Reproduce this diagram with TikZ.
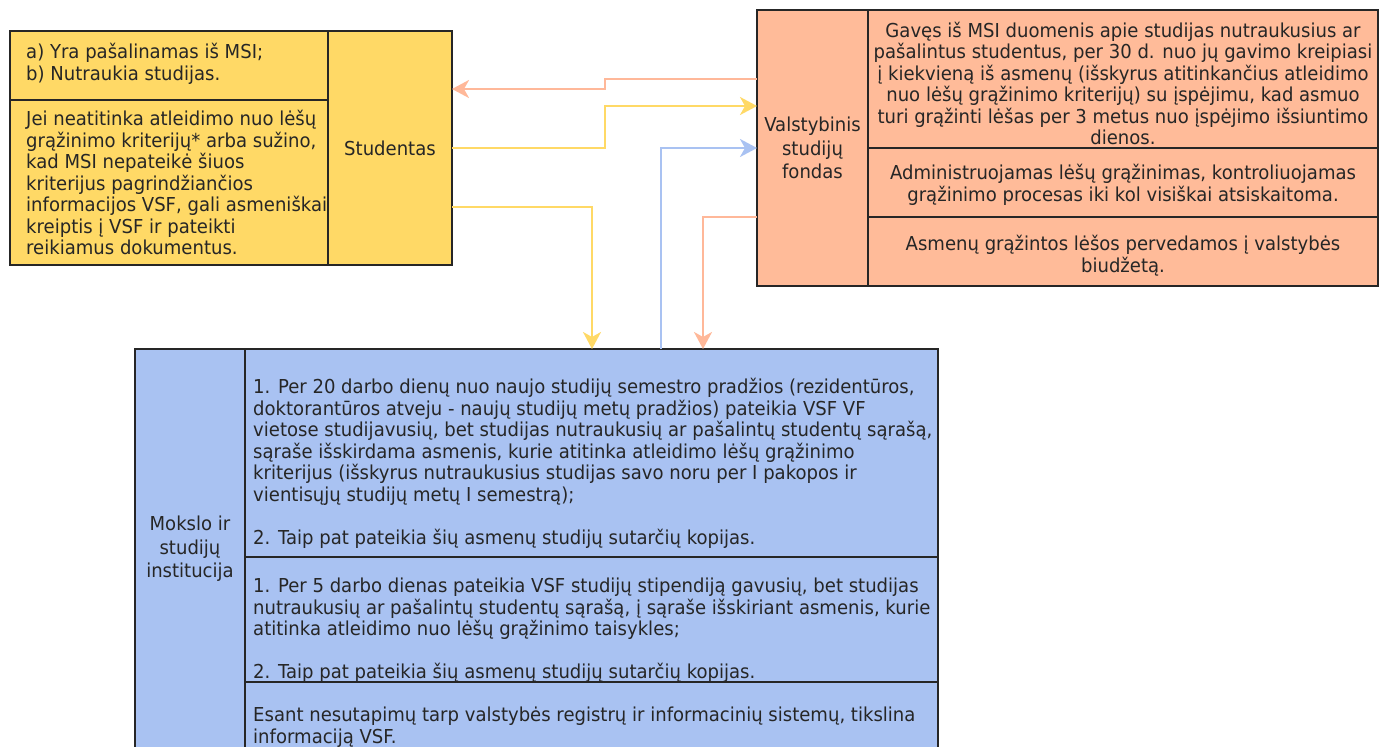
\documentclass[tikz,border=0pt]{standalone}
\usepackage{fontspec}
\setmainfont[FakeStretch=0.94]{DejaVu Sans}
\usetikzlibrary{arrows.meta}
\definecolor{yfill}{HTML}{FFD966}
\definecolor{ofill}{HTML}{FFBB99}
\definecolor{bfill}{HTML}{A9C2F2}
\definecolor{oline}{HTML}{FFB899}
\definecolor{yline}{HTML}{FFD966}
\definecolor{bline}{HTML}{A9C2F2}
\definecolor{edge}{HTML}{262626}
\begin{document}
\begin{tikzpicture}[x=1pt,y=-1pt,
  cell/.style={draw=edge, line width=1.3pt, anchor=north west, inner sep=0pt, outer sep=0pt},
  txt/.style={font=\fontsize{19.2}{21.5}\selectfont, inner sep=0pt, text=black!85},
  lbl/.style={font=\fontsize{19.2}{23.5}\selectfont, inner sep=0pt, align=center, text=black!85},
  conn/.style={line width=2.5pt, -{Stealth[length=17pt,width=18pt,inset=5pt]}},
]
\useasboundingbox (0,0) rectangle (1382,747);
\clip (0,0) rectangle (1382,747);

% ---- Studentas (yellow)
\node[cell, fill=yfill, minimum width=442, minimum height=234] (stud) at (10,31) {};
\node[cell, minimum width=318, minimum height=69] (stA) at (10,31) {};
\node[cell, minimum width=318, minimum height=165] (stB) at (10,100) {};
\node[cell, minimum width=124, minimum height=234, lbl] (stC) at (328,31) {Studentas};
\node[txt, anchor=west, align=left] (t1) at (26,64) {a) Yra pašalinamas iš MSI;\\b) Nutraukia studijas.};
\node[txt, anchor=west, align=left] (t2) at (26,182.5) {Jei neatitinka atleidimo nuo lėšų\\grąžinimo kriterijų* arba sužino,\\kad MSI nepateikė šiuos\\kriterijus pagrindžiančios\\informacijos VSF, gali asmeniškai\\kreiptis į VSF ir pateikti\\reikiamus dokumentus.};

% ---- VSF (orange)
\node[cell, fill=ofill, minimum width=621, minimum height=276] (vsf) at (757,10) {};
\node[cell, minimum width=111, minimum height=276, lbl] (vA) at (757,10) {Valstybinis\\studijų\\fondas};
\node[cell, minimum width=510, minimum height=138] (vB) at (868,10) {};
\node[cell, minimum width=510, minimum height=69] (vC) at (868,148) {};
\node[cell, minimum width=510, minimum height=69] (vD) at (868,217) {};
\node[txt, align=center] (t3) at (1123,83.5) {Gavęs iš MSI duomenis apie studijas nutraukusius ar\\pašalintus studentus, per 30 d. nuo jų gavimo kreipiasi\\į kiekvieną iš asmenų (išskyrus atitinkančius atleidimo\\nuo lėšų grąžinimo kriterijų) su įspėjimu, kad asmuo\\turi grąžinti lėšas per 3 metus nuo įspėjimo išsiuntimo\\dienos.};
\node[txt, align=center] (t4) at (1123,185) {Administruojamas lėšų grąžinimas, kontroliuojamas\\grąžinimo procesas iki kol visiškai atsiskaitoma.};
\node[txt, align=center] (t5) at (1123,255.5) {Asmenų grąžintos lėšos pervedamos į valstybės\\biudžetą.};

% ---- MSI (blue)
\node[cell, fill=bfill, minimum width=803, minimum height=400] (msi) at (135,349) {};
\node[cell, minimum width=110, minimum height=400, lbl] (mA) at (135,349) {Mokslo ir\\studijų\\institucija};
\node[cell, minimum width=693, minimum height=208] (mB) at (245,349) {};
\node[cell, minimum width=693, minimum height=125] (mC) at (245,557) {};
\node[cell, minimum width=693, minimum height=67] (mD) at (245,682) {};
\node[txt, anchor=west, align=left] (t6) at (253,463.5) {1. Per 20 darbo dienų nuo naujo studijų semestro pradžios (rezidentūros,\\doktorantūros atveju - naujų studijų metų pradžios) pateikia VSF VF\\vietose studijavusių, bet studijas nutraukusių ar pašalintų studentų sąrašą,\\sąraše išskirdama asmenis, kurie atitinka atleidimo lėšų grąžinimo\\kriterijus (išskyrus nutraukusius studijas savo noru per I pakopos ir\\vientisųjų studijų metų I semestrą);\\[21.5pt]2. Taip pat pateikia šių asmenų studijų sutarčių kopijas.};
\node[txt, anchor=west, align=left] (t7) at (253,630.5) {1. Per 5 darbo dienas pateikia VSF studijų stipendiją gavusių, bet studijas\\nutraukusių ar pašalintų studentų sąrašą, į sąraše išskiriant asmenis, kurie\\atitinka atleidimo nuo lėšų grąžinimo taisykles;\\[21.5pt]2. Taip pat pateikia šių asmenų studijų sutarčių kopijas.};
\node[txt, anchor=west, align=left] (t8) at (253,727) {Esant nesutapimų tarp valstybės registrų ir informacinių sistemų, tikslina\\informaciją VSF.};

% ---- connectors
\draw[conn, oline] (vsf.west |- 0,79) -- (605,79) -- (605,89) -- (stud.east |- 0,89);
\draw[conn, yline] (stud.east |- 0,148) -- (605,148) -- (605,106) -- (vsf.west |- 0,106);
\draw[conn, bline] (msi.north -| 661,0) -- (661,148) -- (vsf.west |- 0,148);
\draw[conn, yline] (stud.east |- 0,207) -- (592,207) -- (msi.north -| 592,0);
\draw[conn, oline] (vsf.west |- 0,217) -- (703,217) -- (msi.north -| 703,0);
\end{tikzpicture}
\end{document}
